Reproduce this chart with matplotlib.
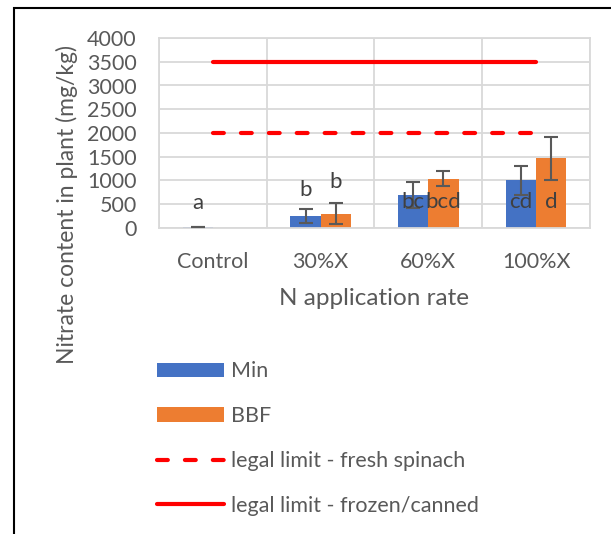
import matplotlib
matplotlib.use("Agg")
import matplotlib.pyplot as plt
from matplotlib.patches import Rectangle, Patch
from matplotlib.lines import Line2D
import numpy as np

# Nitrate content by N application rate
categories = ["Control", "30%X", "60%X", "100%X"]
min_values = [25, 260, 690, 1000]
min_errors = [5, 145, 270, 305]
bbf_values = [0, 300, 1040, 1470]
bbf_errors = [0, 220, 165, 455]
min_letters = ["a", "b", "bc", "cd"]
bbf_letters = ["", "b", "bcd", "d"]
fresh_limit = [2000, 2000, 2000, 2000]
frozen_limit = [3500, 3500, 3500, 3500]

BLUE = "#4472C4"
ORANGE = "#ED7D31"
RED = "#FF0000"
GREY = "#595959"
GRID = "#D9D9D9"

plt.rcParams["font.family"] = ["Lato", "DejaVu Sans"]
plt.rcParams["text.color"] = GREY

fig = plt.figure(figsize=(6.11, 5.34), dpi=100)
ax = fig.add_axes([159 / 611, 1 - 228 / 534, 431 / 611, 190 / 534])

x = np.arange(len(categories))
width = 0.28
ax.bar(x - width / 2, min_values, width, color=BLUE, zorder=2)
ax.bar(x + width / 2, bbf_values, width, color=ORANGE, zorder=2)
err_style = dict(fmt="none", ecolor=GREY, elinewidth=1.5, capsize=5, capthick=1.5, zorder=3)
ax.errorbar(x - width / 2, min_values, yerr=min_errors, **err_style)
ax.errorbar(x[1:] + width / 2, bbf_values[1:], yerr=bbf_errors[1:], **err_style)

ax.plot(x, fresh_limit, color=RED, lw=3, linestyle=(0, (2.6, 4.1)),
        dash_capstyle="round", zorder=4)
ax.plot(x, frozen_limit, color=RED, lw=3, solid_capstyle="round", zorder=4)

# significance letters: low groups sit above the whisker, the rest inside the bars
label_y_min = [520, 790, 540, 540]
label_y_bbf = [0, 965, 540, 540]
for i in range(len(categories)):
    ax.text(x[i] - width / 2, label_y_min[i], min_letters[i], ha="center",
            va="center", fontsize=16, color="#404040", zorder=5)
    if bbf_letters[i]:
        ax.text(x[i] + width / 2, label_y_bbf[i], bbf_letters[i], ha="center",
                va="center", fontsize=16, color="#404040", zorder=5)

ax.set_xlim(-0.5, len(categories) - 0.5)
ax.set_ylim(0, 4000)
ax.set_yticks(np.arange(0, 4001, 500))
ax.set_xticks(x)
ax.set_xticklabels(categories)
ax.set_xticks(np.arange(-0.5, len(categories)), minor=True)
ax.tick_params(axis="both", which="both", length=0, labelsize=15.5, colors=GREY)
ax.tick_params(axis="x", pad=17)
ax.tick_params(axis="y", pad=16)
ax.grid(axis="y", color=GRID, lw=1.3, zorder=0)
ax.grid(axis="x", which="minor", color=GRID, lw=1.3, zorder=0)
for s in ax.spines.values():
    s.set_color(GRID)
    s.set_linewidth(1.3)
ax.set_xlabel("N application rate", fontsize=17.5, color=GREY, labelpad=12)

fig.text(67 / 611, 1 - 205 / 534, "Nitrate content in plant (mg/kg)",
         rotation=90, ha="center", va="center", fontsize=16.5, color=GREY)

handles = [
    Patch(facecolor=BLUE),
    Patch(facecolor=ORANGE),
    Line2D([], [], color=RED, lw=3, linestyle=(0, (2.6, 4.1)), dash_capstyle="round"),
    Line2D([], [], color=RED, lw=3, solid_capstyle="round"),
]
labels = ["Min", "BBF", "legal limit - fresh spinach", "legal limit - frozen/canned"]
fig.legend(handles, labels, loc="upper left", bbox_to_anchor=(138 / 611, 1 - 342 / 534),
           frameon=False, fontsize=15.5, handlelength=3.1, handleheight=0.65,
           labelspacing=1.15, handletextpad=0.3, labelcolor=GREY)

# chart outline running off the right and bottom edges
fig.patches.append(Rectangle((14 / 611, -0.1), 1.1, 1 - 8 / 534 + 0.1,
                             transform=fig.transFigure, fill=False,
                             edgecolor="black", lw=1.5))

fig.savefig("out.png", dpi=100)
